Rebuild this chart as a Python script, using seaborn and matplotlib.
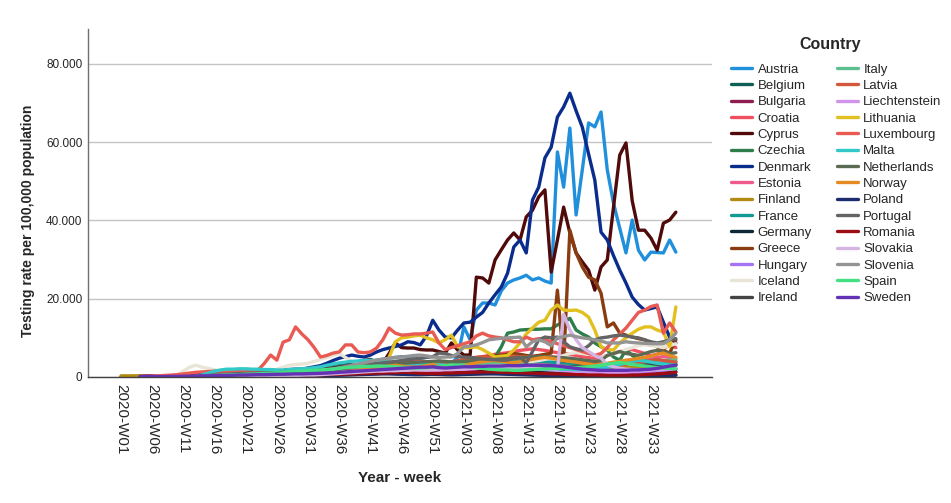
import numpy as np
import pandas as pd
import matplotlib
matplotlib.use("Agg")
import matplotlib.pyplot as plt
from matplotlib.ticker import FuncFormatter
import seaborn as sns

# weekly categories 2020-W01 .. 2021-W37
weeks = [f"2020-W{w:02d}" for w in range(1, 54)] + [f"2021-W{w:02d}" for w in range(1, 38)]

countries = ["Austria", "Belgium", "Bulgaria", "Croatia", "Cyprus", "Czechia", "Denmark",
             "Estonia", "Finland", "France", "Germany", "Greece", "Hungary", "Iceland",
             "Ireland", "Italy", "Latvia", "Liechtenstein", "Lithuania", "Luxembourg",
             "Malta", "Netherlands", "Norway", "Poland", "Portugal", "Romania", "Slovakia",
             "Slovenia", "Spain", "Sweden"]

N = None
austria = [N, N, N, N, N, N, N, N, N, N,
           200, 400, 600, 700, 800, 800, 900, 900, 1000, 1000,
           1000, 1100, 1100, 1200, 1200, 1300, 1400, 1500, 1600, 1700,
           1800, 2000, 2200, 2400, 2600, 2800, 3000, 3200, 3500, 3800,
           4000, 4300, 4500, 4800, 5000, 5200, 5000, 4600, 4200, 3900,
           3500, 3000, 2800, 3500, 5100, 12800, 9500, 17100, 18900, 18900,
           18400, 22000, 24000, 24800, 25300, 26000, 24800, 25300, 24500, 24000,
           57500, 48500, 63600, 41400, 53000, 64900, 63900, 67700, 52900, 44400,
           38000, 31700, 40100, 32400, 29900, 31900, 31800, 31700, 35000, 31900]
belgium = [N, N, N, N, N, N, N, N, N, N,
           N, N, N, 100, 200, 300, 400, 500, 600, 700,
           800, 800, 800, 900, 900, 1000, 1000, 1100, 1200, 1300,
           1400, 1500, 1700, 1900, 2100, 2400, 2700, 3000, 3200, 3000,
           2800, 2500, 2200, 2000, 1900, 1800, 1800, 1900, 2000, 2200,
           2400, 2300, 2200, 2200, 2300, 2400, 2500, 2600, 2700, 2800,
           2900, 3000, 3000, 2900, 2800, 2700, 2600, 2500, 2400, 2300,
           2200, 2100, 2000, 1900, 1800, 1700, 1600, 1600, 1700, 1800,
           1900, 2000, 2100, 2200, 2300, 2300, 2200, 2100, 2000, 2000]
bulgaria = [N, N, N, 300, 300, 300, 200, 100, 100, 100,
            100, 100, 100, 100, 100, 150, 150, 150, 200, 200,
            200, 200, 250, 250, 250, 300, 300, 300, 350, 350,
            400, 400, 450, 450, 500, 550, 600, 650, 700, 750,
            800, 850, 900, 900, 850, 800, 750, 700, 700, 700,
            700, 650, 600, 600, 650, 700, 750, 800, 850, 900,
            900, 900, 850, 800, 750, 700, 650, 600, 550, 500,
            500, 450, 400, 400, 350, 350, 300, 300, 300, 300,
            300, 300, 350, 350, 400, 400, 450, 450, 500, 550]
croatia = [N, N, N, N, N, N, N, N, N, N,
           N, N, 50, 100, 150, 200, 200, 200, 250, 250,
           250, 300, 300, 350, 400, 450, 500, 500, 600, 700,
           800, 900, 1000, 1200, 1400, 1600, 1800, 2000, 2200, 2400,
           2600, 2800, 3000, 3200, 3500, 3800, 4000, 4200, 4000, 3800,
           3500, 3300, 3500, 3800, 4200, 4500, 4800, 5000, 5200, 5500,
           5800, 6000, 6200, 6500, 6800, 7000, 7200, 7000, 6800, 6500,
           6200, 6000, 5800, 5500, 5200, 5000, 4800, 5000, 5500, 6000,
           6500, 6800, 7000, 6500, 6000, 5500, 5800, 7000, 8500, 7500]
cyprus = [N, N, N, N, N, N, N, N, N, 100,
          200, 300, 400, 400, 500, 500, 600, 600, 700, 700,
          800, 800, 900, 1000, 1100, 1200, 1300, 1400, 1500, 1600,
          1800, 2000, 2200, 2500, 2800, 3000, 3300, 3600, 3900, 4200,
          4500, 3800, 3600, 6000, 8700, 7500, 7400, 7400, 7000, 6900,
          6900, 6500, 6100, 8700, 6900, 5600, 5600, 25500, 25300, 24000,
          29900, 32500, 35000, 36800, 35000, 40900, 42600, 46000, 47800, 26800,
          35000, 43400, 36800, 31700, 29400, 27300, 22200, 28100, 29900, 43400,
          56700, 59800, 45000, 37500, 37500, 35500, 32400, 39300, 40100, 42100]
czechia = [N, N, N, N, N, N, N, N, N, N,
           50, 100, 150, 200, 200, 250, 250, 300, 300, 300,
           300, 300, 300, 300, 300, 350, 350, 400, 400, 400,
           450, 500, 550, 600, 700, 800, 1000, 1300, 1600, 2000,
           2500, 3000, 3300, 3500, 3500, 3400, 3300, 3200, 3200, 3300,
           3400, 3500, 3600, 3800, 4000, 4200, 4400, 4600, 4800, 5000,
           5100, 7700, 11200, 11500, 12000, 12100, 12200, 12200, 12300, 12300,
           13300, 14000, 15000, 12000, 11000, 10200, 8700, 7700, 6900, 5100,
           4300, 6900, 5500, 4500, 4000, 3800, 3600, 3500, 3800, 4000]
denmark = [0, 0, 0, 0, 0, 0, 0, 0, 0, 100,
           300, 600, 900, 1100, 1200, 1300, 1400, 1500, 1500, 1500,
           1400, 1500, 1600, 1600, 1700, 1800, 1900, 1900, 2000, 2000,
           2300, 2600, 2900, 3500, 4200, 4800, 5200, 5600, 5300, 5100,
           5600, 6400, 7000, 7400, 7800, 8200, 9000, 8800, 8200, 10500,
           14500, 12000, 10200, 10000, 12000, 13800, 14000, 15300, 16500, 18900,
           21000, 23000, 26500, 33200, 35000, 31700, 45200, 48500, 56000, 58700,
           66400, 69000, 72500, 68000, 63800, 57000, 50300, 37000, 35000, 31000,
           27300, 24000, 20400, 18500, 17100, 17500, 17900, 14000, 10200, 8700]
estonia = [N, N, N, N, N, N, N, N, N, N,
           N, N, 100, 200, 300, 300, 400, 400, 400, 500,
           500, 500, 500, 600, 600, 600, 700, 700, 800, 800,
           900, 1000, 1100, 1200, 1300, 1500, 1700, 1900, 2100, 2300,
           2500, 2600, 2700, 2800, 2700, 2600, 2500, 2400, 2300, 2200,
           2400, 2600, 2800, 3000, 3200, 3400, 3600, 3800, 4000, 4200,
           4300, 4400, 4500, 4300, 4100, 3900, 3700, 3500, 3300, 3100,
           3000, 2900, 2800, 2700, 2600, 2500, 2500, 2600, 2800, 3000,
           3300, 3600, 3900, 4200, 4500, 4800, 5000, 5200, 5000, 4800]
finland = [300, 300, 300, 300, 100, 100, 100, 100, 100, 150,
           200, 250, 300, 350, 400, 400, 450, 500, 500, 550,
           600, 600, 650, 700, 700, 750, 800, 800, 850, 900,
           950, 1000, 1050, 1100, 1150, 1200, 1250, 1300, 1350, 1400,
           1450, 1500, 1500, 1550, 1600, 1600, 1650, 1700, 1800, 1900,
           2000, 1900, 1800, 1800, 1900, 2000, 2100, 2100, 2200, 2200,
           2300, 2300, 2200, 2200, 2100, 2100, 2000, 2000, 1900, 1900,
           1800, 1800, 1700, 1700, 1700, 1800, 1900, 2000, 2100, 2200,
           2300, 2400, 2500, 2600, 2700, 2700, 2800, 2800, 2900, 3000]
france = [N, N, N, N, N, N, N, N, N, N,
          N, N, N, 100, 200, 300, 400, 500, 600, 700,
          800, 800, 900, 900, 1000, 1000, 1100, 1200, 1300, 1500,
          1700, 1900, 2100, 2300, 2500, 2700, 2900, 3000, 3100, 3200,
          3300, 3200, 3000, 2800, 2700, 2600, 2800, 3000, 3200, 3500,
          3800, 4000, 3800, 3500, 3400, 3500, 3600, 3800, 4000, 4200,
          4300, 4300, 4200, 4200, 4100, 4100, 4000, 4000, 3900, 3800,
          3700, 3600, 3500, 3400, 3300, 3200, 3100, 3000, 3200, 3500,
          3800, 4000, 4200, 4300, 4100, 3900, 3700, 3500, 3400, 3300]
germany = [N, N, N, N, N, N, N, N, N, N,
           N, N, 100, 200, 300, 400, 400, 400, 400, 400,
           400, 400, 400, 400, 500, 500, 500, 600, 600, 700,
           700, 800, 800, 900, 900, 1000, 1000, 1100, 1100, 1200,
           1200, 1300, 1400, 1400, 1400, 1500, 1500, 1500, 1400, 1300,
           1300, 1200, 1200, 1300, 1300, 1400, 1400, 1500, 1500, 1600,
           1600, 1700, 1700, 1600, 1600, 1500, 1500, 1400, 1400, 1300,
           1300, 1200, 1100, 1000, 1000, 900, 900, 900, 900, 1000,
           1000, 1000, 1100, 1100, 1200, 1200, 1300, 1300, 1400, 1400]
greece = [N, N, N, N, N, N, N, N, N, N,
          100, 200, 300, 300, 400, 400, 500, 500, 600, 600,
          700, 700, 800, 800, 900, 900, 1000, 1000, 1100, 1100,
          1200, 1300, 1400, 1500, 1600, 1700, 1800, 2000, 2200, 2400,
          2600, 2800, 3000, 3200, 3400, 3500, 3500, 3400, 3300, 3200,
          3300, 3500, 3600, 3800, 4000, 4200, 4500, 4700, 5000, 5200,
          5400, 5600, 5800, 6000, 5800, 5500, 5300, 5500, 5800, 6100,
          22200, 4000, 37500, 31700, 28100, 25500, 24800, 21400, 12800, 13800,
          11200, 10700, 10200, 9800, 9500, 8500, 7700, 6800, 6100, 9500]
hungary = [N, N, N, N, N, N, N, N, N, N,
           N, N, N, 50, 100, 150, 200, 200, 250, 250,
           300, 300, 300, 350, 350, 400, 400, 450, 500, 500,
           550, 600, 700, 800, 900, 1000, 1100, 1200, 1300, 1400,
           1500, 1600, 1700, 1800, 1800, 1900, 1900, 1800, 1700, 1600,
           1500, 1400, 1300, 1400, 1500, 1700, 1900, 2100, 2300, 2500,
           2600, 2700, 2800, 2900, 3000, 2900, 2800, 2600, 2400, 2200,
           2000, 1800, 1600, 1400, 1200, 1100, 1000, 900, 900, 800,
           800, 800, 900, 1000, 1100, 1300, 1500, 1700, 1900, 2200]
iceland = [N, N, N, N, N, N, N, N, 100, 500,
           1500, 2500, 3000, 2500, 2200, 1800, 1500, 1200, 1000, 900,
           900, 900, 1000, 1200, 1500, 2000, 2500, 3000, 3200, 3300,
           3500, 4000, 4500, 5000, 5500, 6000, 5000, 4000, 3500, 3000,
           2800, 2700, 2600, 2600, 2700, 2800, 3000, 3200, 3500, 3300,
           3000, 2800, 2600, 2400, 2300, 2500, 2700, 2900, 3000, 3100,
           3200, 3300, 3400, 3500, 3600, 3800, 4000, 4200, 4500, 4800,
           5000, 5500, 6000, 6200, 6000, 5800, 5500, 5000, 5500, 6000,
           6500, 7000, 7500, 8000, 8200, 8000, 7800, 7500, 8000, 8500]
ireland = [N, N, N, N, N, N, N, N, N, N,
           N, N, 100, 300, 500, 700, 900, 1000, 1100, 1100,
           1100, 1000, 1000, 1000, 1100, 1200, 1200, 1300, 1400, 1500,
           1600, 1800, 2000, 2200, 2400, 2600, 2800, 3000, 2900, 2800,
           2600, 2400, 2300, 2200, 2300, 2400, 2600, 2800, 3000, 3400,
           3800, 3500, 3000, 2800, 2600, 2400, 2300, 2200, 2200, 2100,
           2100, 2100, 2000, 2000, 2000, 2100, 2200, 2300, 2300, 2400,
           2500, 2600, 2600, 2700, 2800, 2900, 3000, 3200, 3400, 3500,
           3600, 3600, 3500, 3400, 3300, 3200, 3100, 3000, 3100, 3200]
italy = [N, N, N, N, N, N, N, N, N, N,
         N, N, N, 200, 400, 500, 600, 700, 700, 700,
         700, 700, 700, 700, 800, 800, 900, 900, 1000, 1000,
         1100, 1200, 1300, 1400, 1500, 1600, 1800, 2000, 2200, 2400,
         2600, 2800, 3000, 3100, 3200, 3100, 3000, 3000, 3100, 3300,
         3500, 3400, 3300, 3200, 3100, 3200, 3300, 3400, 3500, 3600,
         3700, 3600, 3500, 3400, 3300, 3200, 3100, 3000, 2900, 2800,
         2700, 2600, 2500, 2400, 2400, 2500, 2600, 2800, 3000, 3200,
         3400, 3600, 3700, 3800, 3900, 4000, 4100, 4200, 4300, 4400]
latvia = [N, N, N, N, N, N, N, N, N, N,
          N, N, N, 50, 100, 200, 300, 400, 400, 500,
          500, 500, 500, 600, 600, 600, 700, 700, 800, 800,
          900, 1000, 1100, 1200, 1400, 1600, 1800, 2000, 2200, 2400,
          2600, 2800, 3000, 3200, 3300, 3400, 3500, 3300, 3000, 2800,
          3000, 3300, 3500, 3700, 4000, 4500, 4800, 5000, 5200, 5100,
          5000, 5100, 5200, 5300, 5200, 5100, 5100, 5000, 5100, 5100,
          5000, 4800, 4500, 4300, 4000, 3800, 3500, 3300, 3200, 3100,
          3000, 3200, 3500, 3800, 4000, 4200, 4500, 4200, 4000, 3800]
liechtenstein = [N, N, N, N, N, N, N, N, N, N,
                 N, N, N, N, N, 100, 200, 300, 300, 300,
                 300, 300, 300, 300, 400, 400, 500, 500, 600, 600,
                 700, 800, 900, 1000, 1100, 1200, 1300, 1400, 1500, 1600,
                 1700, 1800, 1900, 2000, 2100, 2000, 1900, 1800, 1700, 1600,
                 1500, 1600, 1700, 1800, 1900, 2000, 2100, 2200, 2300, 2400,
                 2500, 2600, 2500, 2400, 2300, 2200, 2100, 2000, 1900, 1800,
                 1700, 1600, 1500, 1400, 1300, 1200, 1100, 1000, 1000, 1100,
                 1200, 1300, 1400, 1500, 1600, 1700, 1800, 1900, 2000, 2100]
lithuania = [N, N, N, N, N, N, N, N, N, N,
             N, N, 100, 200, 300, 300, 400, 400, 500, 500,
             500, 600, 600, 700, 700, 800, 800, 900, 900, 1000,
             1000, 1100, 1100, 1200, 1200, 1300, 1300, 1400, 1400, 1500,
             1500, 1500, 1500, 5000, 9000, 10000, 10200, 10500, 10700, 10000,
             9500, 8700, 9500, 10700, 7700, 7500, 7500, 7700, 7000, 6100,
             5100, 5300, 5500, 6900, 8700, 11000, 12500, 14000, 14500, 17100,
             18400, 17100, 17000, 17100, 16500, 15300, 12000, 7700, 7000, 6900,
             8700, 10000, 11200, 12200, 12800, 12800, 12000, 11500, 7700, 17900]
luxembourg = [N, N, N, N, N, 200, 300, 400, 500, 600,
              800, 1000, 1200, 1300, 1400, 1500, 1500, 1500, 1400, 1400,
              1400, 1500, 1800, 3500, 5600, 4300, 8900, 9500, 12800, 11000,
              9500, 7500, 5100, 5500, 6100, 6400, 8200, 8200, 6400, 6200,
              6400, 7400, 9500, 12500, 11200, 10700, 10800, 11000, 11000, 11200,
              11500, 8700, 7000, 7500, 8000, 8500, 9000, 10500, 11200, 10500,
              10200, 10000, 9500, 9000, 9000, 10200, 9500, 9800, 9500, 9000,
              8500, 8000, 7500, 7000, 6500, 6000, 5500, 6000, 7500, 9500,
              11000, 12500, 14500, 16500, 17100, 18000, 18400, 11200, 13800, 11500]
malta = [N, N, N, N, N, N, N, N, N, N,
         N, N, 200, 500, 1000, 1500, 1800, 2000, 2000, 2100,
         2100, 2000, 2000, 1900, 1900, 1800, 1800, 1900, 2000, 2100,
         2200, 2400, 2600, 3000, 3300, 3600, 3800, 4000, 4100, 4200,
         4300, 4200, 4000, 3800, 3600, 3500, 3400, 3400, 3300, 3300,
         3200, 3100, 3000, 2900, 2800, 2800, 2700, 2700, 2600, 2600,
         2500, 2500, 2400, 2400, 2300, 2300, 2200, 2200, 2100, 2100,
         2000, 2000, 2000, 1900, 1900, 1900, 2000, 2200, 2400, 2800,
         3200, 3600, 4000, 4300, 4100, 3800, 3500, 3300, 3100, 3000]
netherlands = [N, N, N, N, N, N, N, N, N, N,
               N, 50, 100, 150, 200, 300, 400, 500, 600, 600,
               600, 600, 700, 700, 800, 800, 900, 1000, 1100, 1200,
               1300, 1500, 1700, 1900, 2100, 2300, 2500, 2700, 2900, 3000,
               3100, 3200, 3300, 3300, 3400, 3500, 3600, 3700, 3800, 3900,
               4000, 4100, 4000, 3800, 3900, 4000, 4100, 4200, 4300, 4400,
               4500, 4600, 4700, 4800, 4900, 5000, 5100, 5200, 5200, 5100,
               5000, 4900, 4800, 4600, 4400, 4200, 4000, 4200, 5500, 6000,
               6500, 6000, 5800, 5500, 6000, 6500, 6800, 6500, 6000, 6200]
norway = [N, N, N, N, N, N, N, N, N, N,
          N, 50, 100, 200, 300, 400, 400, 500, 500, 500,
          500, 600, 600, 700, 800, 900, 1000, 1100, 1200, 1300,
          1400, 1500, 1600, 1800, 2000, 2200, 2400, 2600, 2500, 2400,
          2300, 2400, 2600, 2800, 3000, 2800, 2600, 2400, 2600, 2900,
          3200, 2700, 2500, 2400, 2600, 2900, 3300, 3600, 3900, 4100,
          4200, 4000, 3800, 3700, 3900, 4200, 4500, 4800, 5000, 4800,
          4500, 4200, 4000, 3800, 3500, 3300, 3000, 3200, 3500, 3800,
          4000, 4300, 4500, 4800, 5000, 5300, 5800, 6100, 5500, 5000]
poland = [N, N, N, N, N, N, N, N, N, N,
          N, N, 50, 100, 100, 150, 150, 200, 200, 200,
          200, 200, 250, 250, 250, 300, 300, 300, 300, 300,
          300, 350, 350, 400, 400, 450, 500, 550, 600, 650,
          700, 750, 800, 800, 750, 700, 650, 600, 600, 650,
          700, 700, 650, 600, 600, 650, 700, 750, 800, 800,
          800, 750, 700, 650, 600, 550, 500, 450, 400, 400,
          350, 300, 300, 250, 250, 250, 250, 250, 250, 250,
          250, 250, 250, 300, 300, 300, 350, 350, 400, 450]
portugal = [N, N, N, N, N, N, N, N, N, N,
            N, 100, 200, 300, 400, 500, 600, 700, 800, 900,
            900, 1000, 1000, 1000, 1100, 1100, 1200, 1200, 1300, 1300,
            1400, 1500, 1600, 1700, 1800, 2000, 2200, 2400, 2700, 3000,
            3200, 3400, 3600, 3800, 4000, 4200, 4400, 4600, 4800, 5000,
            5200, 6100, 6000, 5500, 5200, 5100, 5000, 4800, 4600, 4500,
            4400, 4300, 4300, 4800, 5100, 3600, 6500, 9500, 10200, 10000,
            10200, 9000, 7700, 7200, 6900, 8000, 9500, 10000, 10200, 10500,
            10700, 10500, 10200, 10000, 9500, 9000, 8700, 9000, 9500, 9800]
romania = [N, N, N, N, N, N, N, N, N, N,
           50, 100, 100, 150, 150, 200, 200, 200, 250, 250,
           250, 300, 300, 300, 350, 350, 400, 400, 450, 450,
           500, 500, 550, 600, 650, 700, 750, 800, 850, 900,
           950, 1000, 1000, 1100, 1100, 1200, 1200, 1100, 1000, 900,
           900, 900, 1000, 1000, 1100, 1100, 1200, 1200, 1300, 1300,
           1300, 1200, 1200, 1100, 1100, 1000, 1000, 900, 900, 800,
           800, 700, 700, 600, 600, 500, 500, 500, 400, 400,
           400, 400, 500, 500, 600, 700, 800, 900, 1000, 1200]
slovakia = [N, N, N, N, N, N, N, N, N, N,
            N, N, N, N, N, 50, 100, 100, 150, 150,
            200, 200, 250, 250, 300, 300, 350, 400, 400, 450,
            500, 500, 600, 700, 800, 900, 1000, 1100, 1200, 1300,
            1400, 1500, 1500, 1600, 1600, 1700, 1700, 1800, 1800, 1800,
            1900, 1900, 2000, 2000, 2100, 2100, 2200, 2200, 2300, 2300,
            2300, 2400, 2400, 2400, 2500, 2500, 2400, 2300, 2200, 2100,
            2000, 16000, 12000, 9500, 7500, 6500, 5500, 4800, 3200, 2600,
            2200, 2000, 1900, 1800, 1800, 1900, 2000, 2100, 2200, 2300]
slovenia = [N, N, N, N, N, N, N, N, N, N,
            N, N, 100, 200, 300, 400, 500, 500, 600, 600,
            600, 700, 700, 700, 800, 800, 900, 900, 1000, 1100,
            1200, 1400, 1600, 1800, 2000, 2300, 2600, 3000, 3300, 3600,
            4000, 4300, 4600, 4800, 5000, 5100, 5300, 5500, 5600, 5400,
            5100, 5000, 5100, 5100, 6000, 7700, 7900, 8200, 8800, 9500,
            9700, 9900, 10000, 10100, 10200, 7700, 9000, 9500, 9000, 8000,
            10000, 10300, 10700, 10300, 10000, 9800, 9500, 9200, 8700, 8700,
            8700, 9000, 8800, 8700, 8600, 8500, 8500, 8500, 9500, 11200]
spain = [N, N, N, N, N, N, N, N, N, N,
         N, N, N, 100, 200, 300, 400, 500, 600, 600,
         700, 700, 800, 900, 1000, 1100, 1200, 1300, 1400, 1500,
         1600, 1700, 1800, 1900, 2000, 2200, 2400, 2500, 2600, 2700,
         2700, 2800, 2800, 2700, 2600, 2500, 2400, 2300, 2300, 2400,
         2500, 2700, 2900, 3100, 3000, 2800, 2600, 2400, 2200, 2000,
         1900, 1800, 1800, 1700, 1700, 1800, 1900, 2000, 2100, 2200,
         2200, 2300, 2300, 2400, 2500, 2600, 2800, 3000, 3300, 3500,
         3700, 3500, 3200, 3000, 2800, 2600, 2400, 2300, 2200, 2100]
sweden = [N, N, N, 100, 100, 100, 100, 100, 150, 150,
          200, 200, 250, 300, 300, 350, 400, 400, 450, 500,
          500, 550, 600, 600, 650, 700, 700, 750, 800, 800,
          850, 900, 950, 1000, 1100, 1200, 1300, 1400, 1500, 1600,
          1700, 1800, 1900, 2000, 2100, 2200, 2300, 2400, 2500, 2500,
          2600, 2400, 2300, 2400, 2500, 2600, 2600, 2700, 2700, 2800,
          2800, 2800, 2900, 2900, 2900, 3000, 3000, 3000, 2900, 2900,
          2800, 2600, 2400, 2200, 2000, 1900, 1800, 1700, 1700, 1700,
          1700, 1700, 1800, 1800, 1900, 2000, 2200, 2500, 2800, 3000]

series = [austria, belgium, bulgaria, croatia, cyprus, czechia, denmark, estonia,
          finland, france, germany, greece, hungary, iceland, ireland, italy, latvia,
          liechtenstein, lithuania, luxembourg, malta, netherlands, norway, poland,
          portugal, romania, slovakia, slovenia, spain, sweden]

colors = ["#2190dc", "#0f5f55", "#8e1e50", "#f05060", "#500a0a", "#2e7d4a", "#0a2c8c",
          "#ee5a8c", "#b28c12", "#129a94", "#0e2838", "#8a3c10", "#a574f2", "#e8e4d6",
          "#444444", "#5cc090", "#d0583c", "#d294ea", "#e2c020", "#e85a52", "#30c8c8",
          "#5c6a52", "#e48c22", "#1c2c6c", "#646464", "#9c0c12", "#d4b4e2", "#949494",
          "#42e082", "#6432b4"]

rows = []
for name, vals in zip(countries, series):
    for i, v in enumerate(vals):
        if v is not None:
            rows.append({"Country": name, "week": i, "rate": v})
df = pd.DataFrame(rows)

sns.set_theme(style="white")
plt.rcParams["font.family"] = ["Liberation Sans", "DejaVu Sans"]

fig = plt.figure(figsize=(9.51, 5.03), dpi=100)
ax = fig.add_axes([0.0925, 0.2505, 0.6562, 0.6918])

sns.lineplot(data=df, x="week", y="rate", hue="Country", hue_order=countries,
             palette=dict(zip(countries, colors)), linewidth=2.4, ax=ax, sort=False)

ax.set_xlim(-5.3, 94.8)
ax.set_ylim(0, 88900)
ax.set_yticks([0, 20000, 40000, 60000, 80000])
ax.yaxis.set_major_formatter(FuncFormatter(lambda v, p: f"{v:,.0f}".replace(",", ".")))
ax.yaxis.grid(True, color="#c4c4c4", linewidth=1)
ax.set_axisbelow(True)

tick_pos = list(range(0, len(weeks), 5))
ax.set_xticks(tick_pos)
ax.set_xticklabels([weeks[i] for i in tick_pos], rotation=270, fontsize=11, va="top", ha="center")
ax.tick_params(axis="x", length=0, pad=5)
ax.tick_params(axis="y", length=0, pad=4, labelsize=8.5)

for s in ["top", "right"]:
    ax.spines[s].set_visible(False)
ax.spines["left"].set_color("#707070")
ax.spines["bottom"].set_color("#404040")
ax.spines["left"].set_linewidth(1)
ax.spines["bottom"].set_linewidth(1)

ax.set_xlabel("Year - week", fontsize=11, fontweight="bold")
ax.xaxis.set_label_coords(0.5, -0.27)
ax.set_ylabel("Testing rate per 100,000 population", fontsize=10, fontweight="bold")
ax.yaxis.set_label_coords(-0.085, 0.45)

# legend: two columns, title drawn separately to match the spacing
sns.move_legend(ax, "upper left", bbox_to_anchor=(0.762, 0.887), bbox_transform=fig.transFigure,
                ncol=2, frameon=False, title=None, fontsize=9.5,
                handlelength=1.6, handletextpad=0.4, columnspacing=1.9,
                labelspacing=0.31, borderpad=0)
fig.text(830 / 951, 1 - 44 / 503, "Country", ha="center", va="center",
         fontsize=11.5, fontweight="bold")

plt.savefig("out.png", dpi=100)
